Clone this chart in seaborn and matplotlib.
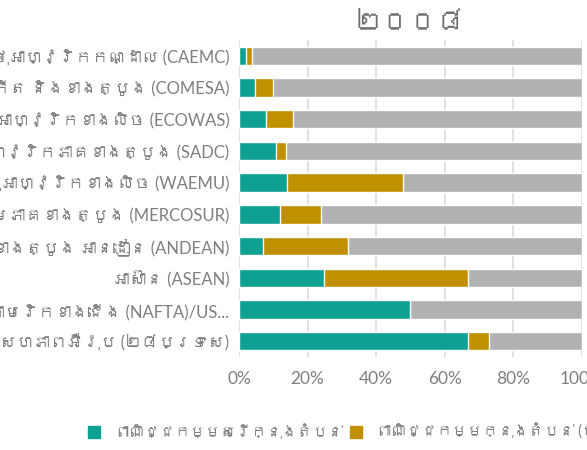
import numpy as np
import pandas as pd
import matplotlib
matplotlib.use("Agg")
import matplotlib.pyplot as plt
import seaborn as sns
from matplotlib import font_manager
from matplotlib.ft2font import FT2Font
from matplotlib.patches import Patch

# data (% of total trade)
blocs = [
    "សហគមន៍សេដ្ឋកិច្ច-រូបិយវត្ថុអាហ្វ្រិកកណ្ដាល (CAEMC)",
    "ទីផ្សាររួមអាហ្វ្រិកខាងកើត និងខាងត្បូង (COMESA)",
    "សហគមន៍សេដ្ឋកិច្ចរដ្ឋអាហ្វ្រិកខាងលិច (ECOWAS)",
    "សហគមន៍អភិវឌ្ឍន៍អាហ្វ្រិកភាគខាងត្បូង (SADC)",
    "សហភាពសេដ្ឋកិច្ច-រូបិយវត្ថុអាហ្វ្រិកខាងលិច (WAEMU)",
    "ទីផ្សាររួមភាគខាងត្បូង (MERCOSUR)",
    "សហគមន៍អាម៉េរិកខាងត្បូង អានដៀន (ANDEAN)",
    "អាស៊ាន (ASEAN)",
    "កិច្ចព្រមព្រៀងពាណិជ្ជកម្មសេរីអាមេរិកខាងជើង (NAFTA)/US...",
    "សហភាពអឺរ៉ុប (២៨ប្រទេស)",
]
free_trade = [2.0, 4.7, 7.9, 10.8, 14.0, 11.9, 7.0, 24.8, 49.9, 66.8]
intra_other = [1.8, 5.2, 7.8, 2.9, 33.8, 12.0, 24.8, 42.0, 0.0, 6.1]
extra = [100 - a - b for a, b in zip(free_trade, intra_other)]

series_names = [
    "ពាណិជ្ជកម្មសេរីក្នុងតំបន់",
    "ពាណិជ្ជកម្មក្នុងតំបន់ (មិនមានសេរី)",
    "ពាណិជ្ជកម្មក្រៅតំបន់",
]
title = "២០០៨"

teal = "#0ea193"
gold = "#c09000"
grey = "#b1b1b3"
text_grey = "#7f7f7f"

sns.set_theme(style="white")

# look for any installed font that covers Khmer
khmer_font = None
for f in font_manager.fontManager.ttflist:
    try:
        if 0x1780 in FT2Font(f.fname).get_charmap():
            khmer_font = f.name
            break
    except Exception:
        pass
families = ["Lato"] + ([khmer_font] if khmer_font else []) + ["DejaVu Sans"]
plt.rcParams["font.family"] = families

df = pd.DataFrame({
    "bloc": blocs,
    "free": free_trade,
    "intra": intra_other,
    "extra": extra,
})
df["total"] = df["free"] + df["intra"] + df["extra"]
df["free_intra"] = df["free"] + df["intra"]

fig = plt.figure(figsize=(5.87, 4.5), dpi=100)
ax = fig.add_axes([239 / 587, 1 - 357 / 450, (582 - 239) / 587, 317 / 450])

sns.barplot(data=df, y="bloc", x="total", color=grey, width=0.58,
            orient="h", ax=ax, saturation=1)
sns.barplot(data=df, y="bloc", x="free_intra", color=gold, width=0.58,
            orient="h", ax=ax, saturation=1)
sns.barplot(data=df, y="bloc", x="free", color=teal, width=0.58,
            orient="h", ax=ax, saturation=1)

ax.set_xlim(0, 100)
ax.set_ylim(9.5, -0.5)
ax.set_xticks([0, 20, 40, 60, 80, 100])
ax.set_xticklabels(["0%", "20%", "40%", "60%", "80%", "100%"])
ax.set_xlabel("")
ax.set_ylabel("")
ax.grid(axis="x", color="#dcdcdc", linewidth=1.2)
ax.set_axisbelow(True)
for s in ax.spines.values():
    s.set_visible(False)
ax.tick_params(axis="both", length=0, colors=text_grey)
ax.tick_params(axis="y", pad=7, labelsize=12)
ax.tick_params(axis="x", pad=10, labelsize=12.5)

ax.set_title(title, fontsize=20, fontweight="bold", color="#6d6e71", pad=6)

handles = [Patch(color=c) for c in (teal, gold, grey)]
fig.legend(handles, series_names, loc="center left", ncol=3,
           bbox_to_anchor=(74 / 587, 1 - 432 / 450), frameon=False,
           fontsize=11, labelcolor=text_grey, handlelength=0.8,
           handleheight=0.8, handletextpad=0.9, columnspacing=0.5)

fig.savefig("out.png", dpi=100)
